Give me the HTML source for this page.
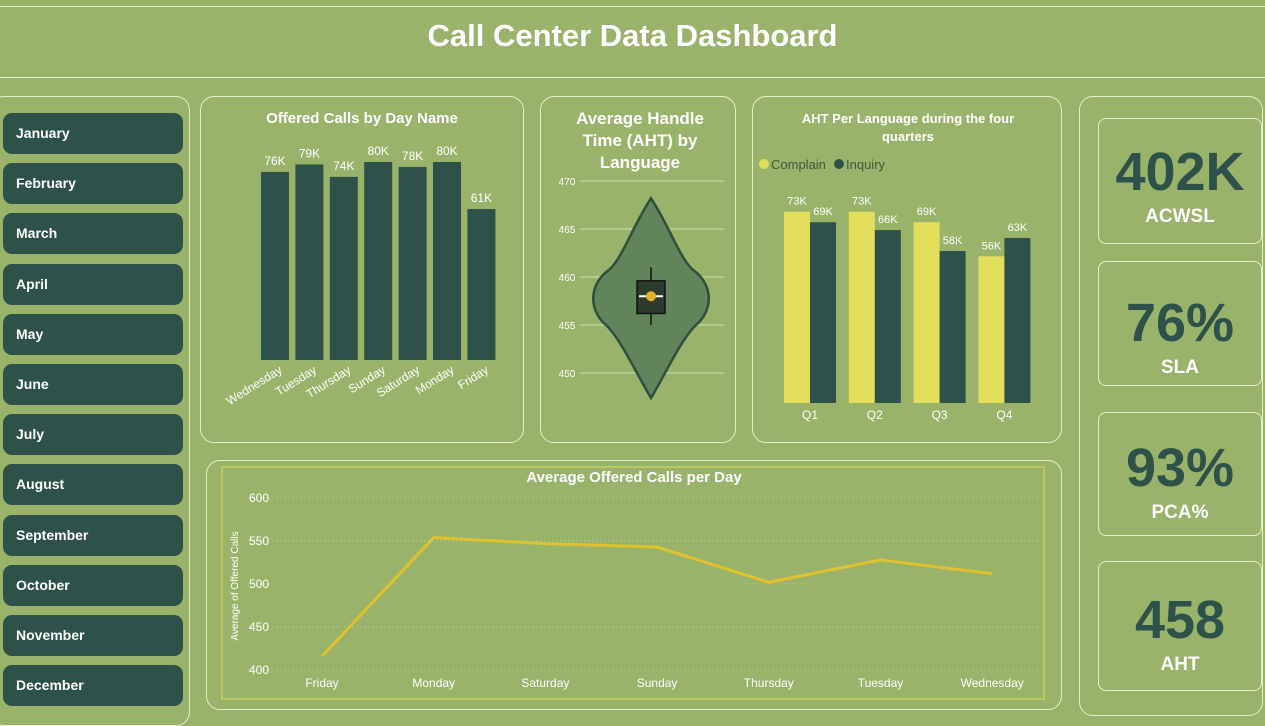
<!DOCTYPE html>
<html><head><meta charset="utf-8"><style>
body{margin:0;width:1265px;height:716px;background:#9ab36a;font-family:"Liberation Sans",sans-serif;overflow:hidden;position:relative}
.box{position:absolute;border:1.5px solid #e6efc8;border-radius:14px;box-sizing:border-box}
.m{position:absolute;left:3px;width:180px;height:41px;background:#2e5249;border-radius:9px;color:#fff;font-weight:bold;font-size:14px;line-height:41px;padding-left:13px;box-sizing:border-box}
.kpi{position:absolute;left:1098px;width:164px;border:1.5px solid #e6efc8;border-radius:8px;box-sizing:border-box;text-align:center;color:#2e5249}
.kpi .v{font-weight:bold;font-size:54px;line-height:56px}
.kpi .l{color:#fff;font-weight:bold;font-size:19px;margin-top:6px}
svg text{font-family:"Liberation Sans",sans-serif}
</style></head><body>
<div class="box" style="left:-2px;top:6px;width:1268px;height:72px;border-radius:0;border-left:none;border-right:none"></div>
<div style="position:absolute;left:0;top:18px;width:1265px;text-align:center;color:#fff;font-weight:bold;font-size:31px">Call Center Data Dashboard</div>
<div class="box" style="left:-10px;top:96px;width:200px;height:630px"></div>
<div id="months"></div>
<div class="box" style="left:200px;top:96px;width:324px;height:347px"></div>
<div class="box" style="left:540px;top:96px;width:196px;height:347px"></div>
<div class="box" style="left:752px;top:96px;width:310px;height:347px"></div>
<div class="box" style="left:206px;top:460px;width:856px;height:250px"></div>
<div class="box" style="left:1079px;top:96px;width:184px;height:620px"></div>
<div class="kpi" style="top:118px;height:126px"><div class="v" style="margin-top:25px">402K</div><div class="l">ACWSL</div></div>
<div class="kpi" style="top:261px;height:125px"><div class="v" style="margin-top:33px">76%</div><div class="l">SLA</div></div>
<div class="kpi" style="top:412px;height:124px"><div class="v" style="margin-top:27px">93%</div><div class="l">PCA%</div></div>
<div class="kpi" style="top:561px;height:130px"><div class="v" style="margin-top:30px">458</div><div class="l">AHT</div></div>
<svg id="c" width="1265" height="716" style="position:absolute;left:0;top:0">
<text x="362" y="123" text-anchor="middle" fill="#fff" font-weight="bold" font-size="15">Offered Calls by Day Name</text>
<text x="640" y="124" text-anchor="middle" fill="#fff" font-weight="bold" font-size="17">Average Handle</text>
<text x="640" y="146" text-anchor="middle" fill="#fff" font-weight="bold" font-size="17">Time (AHT) by</text>
<text x="640" y="168" text-anchor="middle" fill="#fff" font-weight="bold" font-size="17">Language</text>
<text x="908" y="123" text-anchor="middle" fill="#fff" font-weight="bold" font-size="13">AHT Per Language during the four</text>
<text x="908" y="141" text-anchor="middle" fill="#fff" font-weight="bold" font-size="13">quarters</text>
<circle cx="764" cy="164" r="5" fill="#e3df5c"/>
<text x="771" y="169" fill="#3c5a3a" font-size="13">Complain</text>
<circle cx="839" cy="164" r="5" fill="#2e5249"/>
<text x="846" y="169" fill="#3c5a3a" font-size="13">Inquiry</text>
<rect x="222" y="467" width="822" height="232" fill="none" stroke="#d4d45a" stroke-width="1.2"/>
<text x="634" y="482" text-anchor="middle" fill="#fff" font-weight="bold" font-size="15">Average Offered Calls per Day</text>
<text transform="translate(238,586) rotate(-90)" text-anchor="middle" fill="#fff" font-size="10">Average of Offered Calls</text>
<g id="g"></g>
</svg>
<script>
const months=["January","February","March","April","May","June","July","August","September","October","November","December"];
const mc=document.getElementById('months');
months.forEach((m,i)=>{const d=document.createElement('div');d.className='m';d.style.top=(113+i*50.2)+'px';d.textContent=m;


mc.appendChild(d);});
const NS="http://www.w3.org/2000/svg",g=document.getElementById('g');
function el(t,a,txt){const e=document.createElementNS(NS,t);for(const k in a)e.setAttribute(k,a[k]);if(txt!=null)e.textContent=txt;g.appendChild(e);return e;}
// bar chart
const dayCats=["Wednesday","Tuesday","Thursday","Sunday","Saturday","Monday","Friday"];
const dayVals=[76,79,74,80,78,80,61];
const bY=v=>360-v*2.475;
dayCats.forEach((c,i)=>{const x=261+i*34.4;
const r=el('rect',{x:x,y:bY(dayVals[i]),width:28,height:360-bY(dayVals[i]),fill:'#2e5249'});


const t=el('text',{x:x+14,y:bY(dayVals[i])-7,'text-anchor':'middle',fill:'#fff','font-size':12},dayVals[i]+'K');


const l=el('text',{x:x+22,y:372,'text-anchor':'end',fill:'#fff','font-size':12,transform:`rotate(-32 ${x+22} 372)`},c);

});
// violin
const ahtTicks=[470,465,460,455,450];
const aY=v=>181+(470-v)*9.6;
ahtTicks.forEach(v=>{const l=el('line',{x1:580,x2:724,y1:aY(v),y2:aY(v),stroke:'#c5d4a6','stroke-width':1.2});


const t=el('text',{x:567,y:aY(v)+4,'text-anchor':'middle',fill:'#fff','font-size':10},v);

});
const vMax=468.2,vMin=447.4,q1=456.2,q3=459.6,wLo=455,wHi=461,median=458;
const cx=651;
const vp=`M${cx},${aY(vMax)} C${cx+20},${aY(465)} ${cx+30},${aY(461.5)} ${cx+45},${aY(460.5)} C${cx+62},${aY(459)} ${cx+62},${aY(456.5)} ${cx+45},${aY(455)} C${cx+30},${aY(453.5)} ${cx+15},${aY(450)} ${cx},${aY(vMin)} C${cx-15},${aY(450)} ${cx-30},${aY(453.5)} ${cx-45},${aY(455)} C${cx-62},${aY(456.5)} ${cx-62},${aY(459)} ${cx-45},${aY(460.5)} C${cx-30},${aY(461.5)} ${cx-20},${aY(465)} ${cx},${aY(vMax)} Z`;
const vv=el('path',{d:vp,fill:'#62845a',stroke:'#2e4e40','stroke-width':2.5});


const wl=el('line',{x1:cx,x2:cx,y1:aY(wHi),y2:aY(wLo),stroke:'#111','stroke-width':1.5});


const bx=el('rect',{x:cx-14,y:aY(q3),width:28,height:aY(q1)-aY(q3),fill:'#2c3b2b',stroke:'#111','stroke-width':1.5});


const md=el('line',{x1:cx-12,x2:cx+12,y1:aY(median),y2:aY(median),stroke:'#fff','stroke-width':2});


const mn=el('circle',{cx:cx,cy:aY(median),r:5,fill:'#e0b52a'});


// quarter chart
const quarters=["Q1","Q2","Q3","Q4"];
const complainVals=[73,73,69,56];
const inquiryVals=[69,66,58,63];
const qY=v=>403-v*2.62;
quarters.forEach((q,i)=>{const x=784+i*64.8;
[[complainVals,'#e3df5c','complain',0],[inquiryVals,'#2e5249','inquiry',26]].forEach(([arr,col,nm,off])=>{
const r=el('rect',{x:x+off,y:qY(arr[i]),width:26,height:403-qY(arr[i]),fill:col});


const t=el('text',{x:x+off+13,y:qY(arr[i])-7,'text-anchor':'middle',fill:'#fff','font-size':11},arr[i]+'K');

});
const t=el('text',{x:x+26,y:419,'text-anchor':'middle',fill:'#fff','font-size':12},q);

});
// line chart
const lineCats=["Friday","Monday","Saturday","Sunday","Thursday","Tuesday","Wednesday"];
const lineVals=[416,554,547,543,502,528,512];
const lineTicks=[600,550,500,450,400];
const lY=v=>498+(600-v)*0.86;
const lX=i=>322+i*111.7;
lineTicks.forEach(v=>{const l=el('line',{x1:248,x2:1040,y1:lY(v),y2:lY(v),stroke:'#c8d6a4','stroke-width':1,'stroke-dasharray':'1 3'});


const t=el('text',{x:269,y:lY(v)+4,'text-anchor':'end',fill:'#fff','font-size':12},v);

});
lineCats.forEach((c,i)=>{const t=el('text',{x:lX(i),y:687,'text-anchor':'middle',fill:'#fff','font-size':12},c);

});
const pl=el('polyline',{points:lineVals.map((v,i)=>lX(i)+','+lY(v)).join(' '),fill:'none',stroke:'#e0c12e','stroke-width':3,'stroke-linejoin':'round'});


</script>
</body></html>
